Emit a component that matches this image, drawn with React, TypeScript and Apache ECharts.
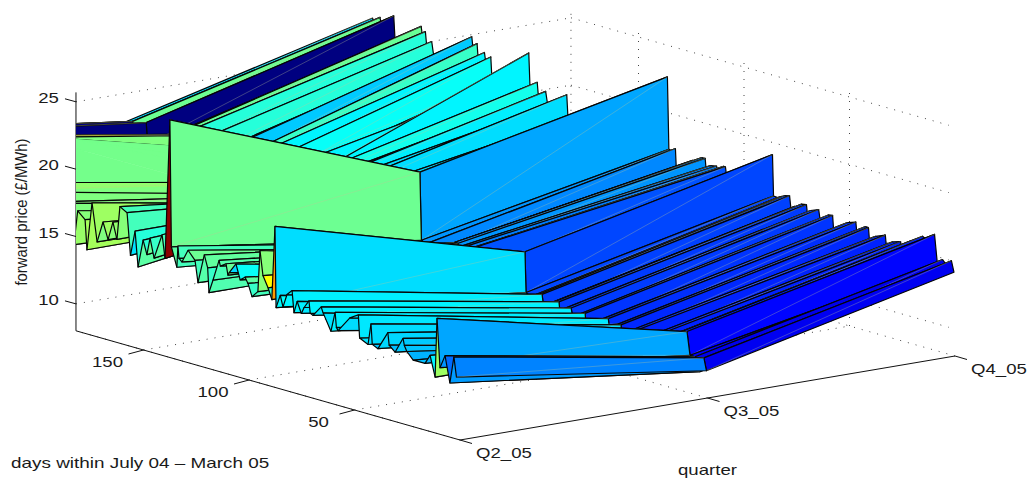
import React, { useEffect, useRef } from "react";
import * as echarts from "echarts";

const quarterLabels = ["Q2_05", "Q3_05", "Q4_05"];
const priceTicks = [25, 20, 15, 10];
const dayTicks = [150, 100, 50];

const days = [
  0.5, 1.7, 3.6, 5.9, 8.3, 9.7, 10.6, 13, 15.4, 21,
  24, 25.2, 25.8, 29.6, 32.4, 33, 37.7, 40.4, 41, 42.4,
  46.4, 47, 51, 56.6, 57.4, 58, 60, 63.7, 64.6, 68.5,
  69.8, 70.4, 72.7, 74, 76, 77.5, 78.4, 80.8, 82.7, 84,
  86, 86.5, 88, 89.8, 92.2, 93.6, 94.6, 97.4, 99.3, 100.7,
  103, 105, 108.2, 108.8, 109.7, 112.4, 113, 115.9, 117.8, 118.4,
  120, 123, 124.4, 127.7, 130.6, 132, 132.5, 133, 135.6, 136.3,
  138.6, 140, 143.8, 145.7, 147.2, 149, 151.4, 152.8, 155, 156.6,
  160, 161.4, 163.3, 165.6, 168, 170.8, 173.2, 175.6, 176.5, 180,
  181.8, 183.4, 184, 193, 194, 197.4, 198, 201.4, 202, 218,
  219.4, 220, 222.4, 223, 226, 226.5, 228.4, 229, 247, 248,
  250.4, 251, 252.4, 253, 265.4, 266, 272, 272.5, 275.5, 276,
];
const priceQ2 = [
  12.65, 14.1, 12.07, 14, 13, 16.6, 12.2, 13.7, 13, 13,
  13.5, 13.9, 14.4, 13.2, 13.6, 14.5, 13.1, 13.3, 14.8, 13.2,
  13.5, 15.2, 14.8, 13.6, 13.8, 14.9, 13.4, 14.6, 15, 14.2,
  14.3, 15.2, 14.6, 14.1, 14.9, 14, 15.6, 15.2, 14.2, 15,
  14, 20, 14.5, 15.3, 16.1, 17.9, 14.8, 14.3, 15.2, 15.6,
  15.3, 16.4, 15.6, 15.4, 16.2, 15.9, 16.3, 14.7, 13.7, 15.5,
  16.4, 14.2, 15.8, 16.4, 15.4, 15.6, 16.5, 14.9, 16.3, 25.7,
  15.3, 17, 15.1, 16.5, 15.2, 16.2, 14.1, 16.7, 14.8, 17.9,
  18.2, 15.7, 16.9, 15.5, 16.7, 15.1, 17.9, 14.3, 16.5, 17,
  14.4, 17.4, 17.5, 17.8, 17.8, 17.7, 17.7, 17.6, 17.6, 17.4,
  21.5, 21.7, 21.3, 21.3, 21.2, 21.2, 20.6, 20.6, 20, 20,
  19.5, 19.2, 19.3, 19.3, 18.9, 18.8, 18.8, 18.8, 18.7, 18.7,
];
const priceQ3 = [
  10, 10.9, 9.8, 10.8, 10.8, 12.5, 12.15, 12, 12.05, 11.47,
  10.9, 10.8, 11.4, 11.15, 10.55, 11.6, 11.26, 10.7, 11.6, 11.6,
  10.9, 11.8, 11.53, 10.6, 10.5, 11.7, 11.6, 10.95, 11.8, 11.55,
  11.1, 12, 11.9, 11.45, 11.57, 11.1, 12.2, 12.05, 11.9, 11.77,
  12, 15, 14.7, 14.5, 14.25, 14.1, 14, 13.7, 13.5, 13.35,
  13.1, 12.9, 12.55, 14.4, 14.35, 13.9, 14.3, 14.15, 13.65, 14.2,
  14.2, 13.6, 13.76, 13.4, 13.1, 12.7, 13.6, 13.4, 13.67, 18.7,
  18.3, 18.15, 17.75, 17.55, 17.4, 17.2, 16.95, 16.8, 16.6, 16.4,
  16.05, 15.9, 15.7, 15.45, 15.2, 14.9, 14.65, 14.4, 14.3, 13.95,
  13.75, 14.3, 14.9, 14.5, 14.7, 14.6, 15.1, 14.4, 14.2, 14.3,
  13.3, 14.9, 14.2, 15.5, 14.9, 15.4, 15, 16.2, 14.3, 15.6,
  15.2, 16.3, 16, 16.3, 15, 16.6, 15.9, 16.4, 16, 16.2,
];
const priceQ4 = [
  14.2, 15, 14.5, 14.9, 14.4, 16.6, 16.15, 16, 16.2, 15.62,
  14.9, 14.8, 15.35, 15.15, 14.4, 15.5, 15.2, 14.5, 15.7, 15.72,
  14.9, 15.85, 15.63, 14.6, 14.5, 15.85, 15.8, 15, 16, 15.75,
  15.2, 16.1, 16.04, 15.5, 15.72, 15.1, 16.4, 16.3, 16.15, 16.02,
  16.05, 19.1, 18.7, 18.5, 18.25, 18.1, 18, 17.7, 17.5, 17.35,
  17.1, 16.9, 16.5, 17.2, 17.2, 16.6, 17.07, 16.97, 16.3, 17.4,
  17.38, 16.65, 16.98, 16.63, 16.33, 15.7, 17.5, 17.2, 17.3, 22.65,
  22.15, 22, 21.6, 21.4, 21.25, 21.05, 20.8, 20.65, 20.45, 20.25,
  19.9, 19.75, 19.55, 19.3, 19.05, 18.75, 18.5, 18.25, 18.15, 17.8,
  17.6, 17.45, 19.2, 18, 19, 18.4, 19.5, 18.9, 21.5, 18.2,
  18.6, 20.4, 19.9, 20.6, 20, 21.1, 20.6, 21.5, 19.2, 20.3,
  19.9, 20.9, 20.5, 21.2, 19.7, 21.4, 20.5, 21, 20.3, 20.8,
];
// colour value of the Q2-Q3 and of the Q3-Q4 facet that starts at each day
const shadeQ2 = [
  12, 12.4, 11.6, 12.3, 12.6, 16.7, 13.9, 12.8, 13, 12.8,
  13.1, 13.2, 13.2, 13, 13.4, 13.4, 13.1, 13.5, 13.5, 13.6,
  13.7, 13.7, 13.5, 13.7, 13.8, 13.8, 13.6, 13.8, 13.7, 13.9,
  13.9, 13.9, 13.7, 13.8, 13.9, 13.8, 14.1, 13.9, 14.1, 14,
  13.5, 20, 15, 18.3, 16.3, 16.3, 15.2, 15, 15.6, 15.3,
  14.2, 13.4, 15.8, 15.8, 15.5, 15.5, 15.3, 15.4, 15, 15.7,
  15.5, 15.2, 15.9, 15.6, 15.4, 15.2, 15.2, 15.6, 15.9, 24.5,
  15.2, 15.6, 15, 15.8, 14.8, 15.6, 14.7, 13.6, 15.2, 15.2,
  16.3, 16.5, 16.3, 16.7, 16.2, 16.7, 16.8, 16.8, 16.3, 16.6,
  16.2, 16.2, 16.2, 16.2, 16.2, 16.2, 16.2, 16.2, 16.5, 16,
  16, 16, 16, 16, 16, 16, 16, 16, 16, 16.2,
  16.2, 18.6, 18.6, 7.7, 7.7, 7.7, 7.7, 7.7, 7.7, 7.7,
];
const shadeQ3 = [
  9.6, 9.8, 9.5, 9.8, 9.9, 10.7, 10.4, 10.4, 10.4, 10.4,
  10.4, 10.4, 10.4, 10.4, 10.4, 10.5, 10.5, 10.5, 10.6, 10.6,
  10.6, 10.7, 10.7, 10.7, 10.7, 10.8, 10.8, 10.8, 10.8, 10.8,
  10.8, 10.9, 10.9, 10.9, 10.9, 10.9, 11, 11, 11, 11,
  11, 11, 11, 11, 11, 11, 11, 11, 11, 11,
  11, 11, 11.2, 11.5, 11.5, 11.9, 12, 12, 12.3, 12.1,
  12, 12, 12, 12, 12, 12.1, 12.2, 12.3, 12.6, 13.5,
  13.5, 13.5, 13.5, 13.5, 13.5, 13.5, 13.5, 13.5, 13.5, 13.5,
  13.5, 13.5, 13.5, 13.5, 13.5, 13.5, 13.5, 13.5, 13.5, 13.5,
  13.5, 13.5, 13.5, 13.8, 13.8, 14.4, 14.4, 13.9, 13.9, 14.2,
  14.2, 13.9, 13.9, 15, 15, 13.2, 13.2, 14.7, 14.7, 14.7,
  14.7, 15.8, 15.8, 15.8, 7.7, 15.9, 15.9, 13.4, 13.4, 13.4,
];
const seamlessDayRanges = [[193, 201.4], [218, 247]];

const WIDTH = 1034;
const HEIGHT = 480;
const FRAME = { x0: 460, y0: 440, perQuarterX: 247.5, perQuarterY: -42, perDayX: -2.11, perDayY: -0.6, perPound: 13.47, zMin: 8, dayMax: 182 };
const SURFACE_Q2_SHIFT = -2.5;
const COLOR_MIN = 7.7;
const COLOR_RANGE = 17;
const FONT = "Liberation Sans";

function project(q: number, d: number, z: number): [number, number] {
  return [
    FRAME.x0 + FRAME.perQuarterX * q + FRAME.perDayX * d,
    FRAME.y0 + FRAME.perQuarterY * q + FRAME.perDayY * d - FRAME.perPound * (z - FRAME.zMin),
  ];
}
function surfacePoint(q: number, row: number): [number, number] {
  const z = [priceQ2, priceQ3, priceQ4][q][row];
  const p = project(q, days[row], z);
  return [p[0] + (q === 0 ? SURFACE_Q2_SHIFT : 0), p[1]];
}
function jet(value: number): string {
  const t = Math.max(0, Math.min(1, (value - COLOR_MIN) / COLOR_RANGE));
  const c = (v: number) => Math.round(255 * Math.max(0, Math.min(1, v)));
  return `rgb(${c(1.5 - Math.abs(4 * t - 3))},${c(1.5 - Math.abs(4 * t - 2))},${c(1.5 - Math.abs(4 * t - 1))})`;
}

// far rows first, and on one row the far strip first
const facets: number[][] = [];
for (let r = days.length - 2; r >= 0; r--) {
  facets.push([r, 1]);
  facets.push([r, 0]);
}

function dottedLine(api: any, a: [number, number], b: [number, number]) {
  const p = api.coord(a);
  const s = api.coord(b);
  return {
    type: "line",
    shape: { x1: p[0], y1: p[1], x2: s[0], y2: s[1] },
    style: { stroke: "#444", lineWidth: 1, lineDash: [1, 7], fill: null },
  };
}
function solidLine(api: any, a: [number, number], b: [number, number]) {
  const p = api.coord(a);
  const s = api.coord(b);
  return {
    type: "line",
    shape: { x1: p[0], y1: p[1], x2: s[0], y2: s[1] },
    style: { stroke: "#111", lineWidth: 1, fill: null },
  };
}
function label(text: string, x: number, y: number, align: string, scaleX = 1.33) {
  return {
    type: "text",
    x,
    y,
    scaleX,
    style: { text, fontFamily: FONT, fontSize: 14, fill: "#1a1a1a", align, verticalAlign: "middle" },
  };
}

function renderGrid(_: any, api: any) {
  const children: any[] = [];
  const zTop = 25.7;
  const dM = FRAME.dayMax;
  priceTicks.forEach((z) => {
    children.push(dottedLine(api, project(0, dM, z), project(2, dM, z)));
    children.push(dottedLine(api, project(2, dM, z), project(2, 3, z)));
  });
  dayTicks.forEach((d) => {
    children.push(dottedLine(api, project(0, d, 8), project(2, d, 8)));
    children.push(dottedLine(api, project(2, d, 8), project(2, d, zTop)));
  });
  [0, 1, 2].forEach((q) => {
    children.push(dottedLine(api, project(q, 0, 8), project(q, dM, 8)));
  });
  children.push(dottedLine(api, project(2, dM, 8), project(2, dM, zTop)));
  return { type: "group", children };
}

function renderAxes(_: any, api: any) {
  const children: any[] = [];
  const dM = FRAME.dayMax;
  children.push(solidLine(api, project(0, dM, 8), project(0, dM, 25.7)));
  children.push(solidLine(api, project(0, dM, 8), project(0, 0, 8)));
  children.push(solidLine(api, project(0, 0, 8), project(2, 0, 8)));
  priceTicks.forEach((z) => {
    const p = project(0, dM, z);
    children.push(solidLine(api, p, [p[0] - 11, p[1] - 3]));
    children.push(label(String(z), p[0] - 17, p[1] - 4, "right"));
  });
  dayTicks.forEach((d) => {
    const p = project(0, d, 8);
    children.push(solidLine(api, p, [p[0] - 15, p[1] + 4]));
    children.push(label(String(d), p[0] - 36, p[1] + 12, "center"));
  });
  quarterLabels.forEach((name, q) => {
    const p = project(q, 0, 8);
    children.push(solidLine(api, p, [p[0] + 12, p[1] + 3.5]));
    children.push(label(name, p[0] + 16, p[1] + 13, "left"));
  });
  children.push(label("days within July 04 \u2013 March 05", 11, 463, "left", 1.35));
  children.push(label("quarter", 678, 470, "left"));
  children.push({
    type: "text",
    x: 21,
    y: 212,
    rotation: Math.PI / 2,
    scaleX: 0.93,
    style: { text: "forward price (\u00a3/MWh)", fontFamily: FONT, fontSize: 16, fill: "#1a1a1a", align: "center", verticalAlign: "middle" },
  });
  return { type: "group", children };
}

function renderFacet(_: any, api: any) {
  const row = api.value(0);
  const col = api.value(1);
  const near0 = surfacePoint(col, row);
  const near1 = surfacePoint(col + 1, row);
  const far1 = surfacePoint(col + 1, row + 1);
  const far0 = surfacePoint(col, row + 1);
  const shade = (col === 0 ? shadeQ2 : shadeQ3)[row];
  const pts = [near0, near1, far1, far0].map((p) => api.coord(p));
  const seamless = col === 0 && seamlessDayRanges.some((r) => days[row] >= r[0] && days[row] <= r[1]);
  const fill = jet(shade);
  return {
    type: "group",
    children: [
      {
        type: "polygon",
        shape: { points: pts },
        style: seamless ? { fill, stroke: fill, lineWidth: 0.5 } : { fill, stroke: "#050505", lineWidth: 1.2, lineJoin: "round" },
      },
      {
        type: "line",
        shape: { x1: pts[0][0], y1: pts[0][1], x2: pts[2][0], y2: pts[2][1] },
        style: { stroke: seamless ? fill : "rgba(190,200,150,0.55)", lineWidth: 0.6, fill: null },
      },
    ],
  };
}

export default function App() {
  const ref = useRef<HTMLDivElement>(null);
  useEffect(() => {
    const chart = echarts.init(ref.current!, null, { renderer: "svg" });
    chart.setOption({
      animation: false,
      backgroundColor: "#ffffff",
      grid: { left: 76, right: 0, top: 0, bottom: 0 },
      xAxis: { type: "value", min: 76, max: WIDTH, show: false },
      yAxis: { type: "value", min: 0, max: HEIGHT, inverse: true, show: false },
      series: [
        { type: "custom", name: "grid", z: 1, clip: false, silent: true, data: [[0, 0]], renderItem: renderGrid },
        { type: "custom", name: "axes", z: 2, clip: false, silent: true, data: [[0, 0]], renderItem: renderAxes },
        { type: "custom", name: "forward price", z: 3, clip: true, silent: true, data: facets, renderItem: renderFacet },
      ],
    });
    return () => chart.dispose();
  }, []);
  return <div ref={ref} style={{ position: "absolute", left: 0, top: 0, width: WIDTH, height: HEIGHT }} />;
}
